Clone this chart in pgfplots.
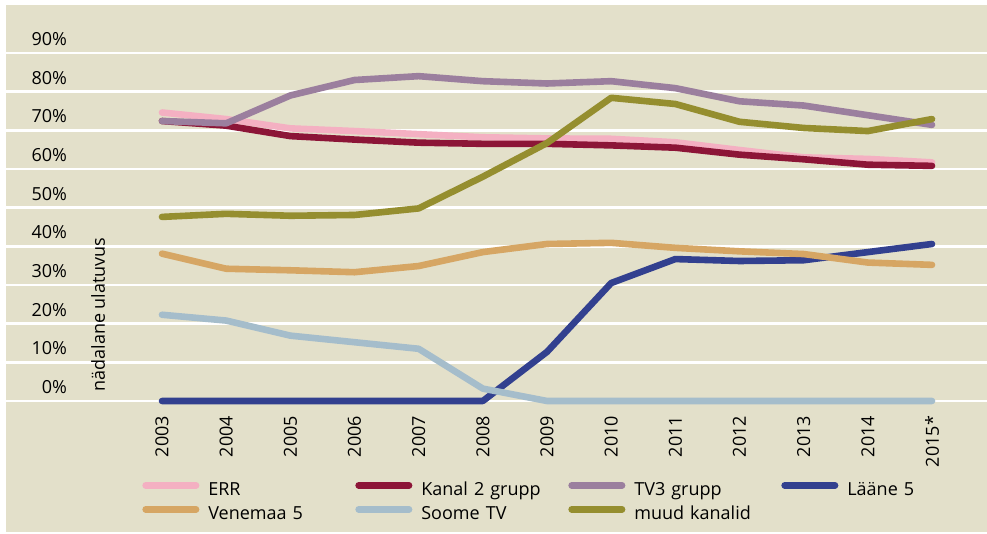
\documentclass[border=0pt]{standalone}
\usepackage{pgfplots}
\pgfplotsset{compat=1.18}
\usepackage{pgfplotstable}
\usepackage{fontspec}
\setmainfont{Open Sans}
\definecolor{bgbeige}{HTML}{E3E0CA}
\definecolor{cERR}{HTML}{F4B0C2}
\definecolor{cK2}{HTML}{8C1537}
\definecolor{cTV3}{HTML}{9B7F9E}
\definecolor{cL5}{HTML}{32408F}
\definecolor{cVen}{HTML}{D6A664}
\definecolor{cSoome}{HTML}{A5BDCB}
\definecolor{cMuud}{HTML}{958E2F}
\pgfplotstableread{
x ERR K2 TV3 L5 Ven Soome Muud
0 74.6 72.4 72.4 0 38.1 22.3 47.6
1 72.9 71.2 71.8 0 34.2 20.8 48.4
2 70.5 68.5 79.0 0 33.8 16.9 47.9
3 69.8 67.6 83.0 0 33.3 15.2 48.1
4 69.0 66.8 84.0 0 34.9 13.5 49.8
5 68.2 66.5 82.7 0 38.5 3.2 58.0
6 67.9 66.5 82.1 12.7 40.6 0 66.7
7 67.8 66.1 82.7 30.5 40.9 0 78.4
8 66.9 65.5 80.9 36.7 39.6 0 76.8
9 64.9 63.7 77.5 36.2 38.7 0 72.2
10 63.0 62.5 76.4 36.4 38.0 0 70.6
11 62.6 61.1 73.9 38.5 35.8 0 69.8
12 61.7 60.8 71.4 40.6 35.2 0 72.9
}\datatable
\begin{document}
\begin{tikzpicture}
\useasboundingbox (0,0) rectangle (493.5pt,267pt);
\fill[white] (0,0) rectangle (493.5pt,267pt);
\fill[bgbeige] (3pt,1pt) rectangle (493.5pt,264.5pt);
\begin{axis}[
  at={(3pt,66.5pt)}, anchor=south west,
  scale only axis, width=490.5pt, height=198pt,
  xmin=-2.431, xmax=12.857, ymin=0, ymax=102.4,
  axis line style={draw=none},
  major tick length=0pt,
  clip=false,
  font=\fontsize{9}{11}\selectfont,
  /pgf/number format/assume math mode=true,
  ytick={0,10,...,90},
  yticklabels={0\%,10\%,20\%,30\%,40\%,50\%,60\%,70\%,80\%,90\%},
  yticklabel style={anchor=east, xshift=34pt, yshift=7pt},
  ymajorgrids,
  grid style={white, line width=1.3pt},
  xtick={0,...,12},
  xticklabels={2003,2004,2005,2006,2007,2008,2009,2010,2011,2012,2013,2014,2015*},
  xticklabel style={rotate=90, anchor=east, xshift=-4pt},
  ylabel={nädalane ulatuvus},
  every axis y label/.style={at={(axis description cs:0.1009,0.0227)}, rotate=90, anchor=base west, inner sep=0pt},
  every axis plot/.append style={line width=3.3pt, line cap=round, line join=round, mark=none},
  legend columns=4,
  legend image code/.code={\draw[#1, line width=3.3pt, line cap=round] (1.65pt,2.5pt) -- (26.85pt,2.5pt);},
  legend style={at={(axis description cs:0.1386,-0.202)}, anchor=north west,
    draw=none, fill=none, inner sep=0pt, row sep=3pt,
    font=\fontsize{9}{11}\selectfont,
    nodes={inner sep=0pt, text height=7pt, text depth=2pt, text width=73.5pt, align=left},
    /tikz/every odd column/.style={column sep=4.5pt}},
]
\addplot[cERR] table[x=x,y=ERR]{\datatable};
\addlegendentry{ERR}
\addplot[cK2] table[x=x,y=K2]{\datatable};
\addlegendentry{Kanal 2 grupp}
\addplot[cTV3] table[x=x,y=TV3]{\datatable};
\addlegendentry{TV3 grupp}
\addplot[cL5] table[x=x,y=L5]{\datatable};
\addlegendentry{Lääne 5}
\addplot[cVen] table[x=x,y=Ven]{\datatable};
\addlegendentry{Venemaa 5}
\addplot[cSoome] table[x=x,y=Soome]{\datatable};
\addlegendentry{Soome TV}
\addplot[cMuud] table[x=x,y=Muud]{\datatable};
\addlegendentry{muud kanalid}
\end{axis}
\end{tikzpicture}
\end{document}
